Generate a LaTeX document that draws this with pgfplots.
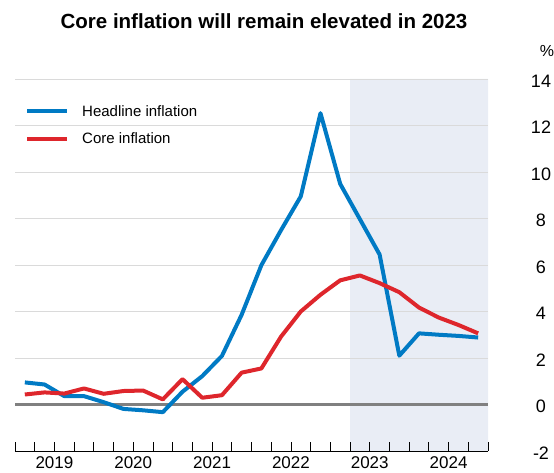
\documentclass[border=0pt]{standalone}
\usepackage{fontspec}
\setmainfont{Liberation Sans}
\usepackage{pgfplots}
\pgfplotsset{compat=1.18}
\definecolor{hblue}{RGB}{0,122,196}
\definecolor{cred}{RGB}{222,38,44}
\definecolor{shade}{RGB}{233,237,245}
\definecolor{gridc}{RGB}{218,218,218}
\definecolor{zeroc}{RGB}{128,128,128}

\pgfplotstableread{
x head core
0.5 0.95 0.43
1.5 0.86 0.52
2.5 0.36 0.47
3.5 0.36 0.69
4.5 0.10 0.46
5.5 -0.19 0.58
6.5 -0.25 0.60
7.5 -0.33 0.22
8.5 0.55 1.09
9.5 1.22 0.29
10.5 2.09 0.40
11.5 3.86 1.37
12.5 5.99 1.55
13.5 7.50 2.92
14.5 8.95 4.00
15.5 12.53 4.72
16.5 9.49 5.34
17.5 7.97 5.55
18.5 6.45 5.22
19.5 2.10 4.83
20.5 3.06 4.17
21.5 3.00 3.74
22.5 2.95 3.42
23.5 2.88 3.06
}\datatable

\begin{document}
\begin{tikzpicture}
\node[font=\bfseries\fontsize{20.5}{24}\selectfont] at (264pt,452pt) {Core inflation will remain elevated in 2023};
\node[font=\fontsize{16}{19}\selectfont] at (547pt,422pt) {\%};
\begin{axis}[
  at={(15pt,22pt)}, anchor=south west, scale only axis,
  width=473pt, height=372pt,
  xmin=0, xmax=24, ymin=-2, ymax=14,
  set layers,
  axis x line*=bottom, axis y line*=right,
  y axis line style={draw=none},
  x axis line style={black, line width=0.8pt},
  /pgf/number format/assume math mode=true,
  xticklabel style={font=\fontsize{17}{20}\selectfont, yshift=-2.5pt},
  yticklabel style={font=\fontsize{18}{21}\selectfont, anchor=center, xshift=53pt, yshift=-2pt},
  ytick={-2,0,...,14},
  ymajorgrids, grid style={gridc, line width=0.8pt},
  ytick style={draw=none},
  xtick={0,4,...,24}, xticklabels={},
  minor x tick num=3,
  xtick style={black, line width=0.8pt},
  tick align=inside,
  major tick length=9pt, minor tick length=9pt,
  extra x ticks={2,6,10,14,18,22},
  extra x tick labels={2019,2020,2021,2022,2023,2024},
  extra x tick style={major tick length=0pt, grid=none},
  legend style={at={(0,1)}, anchor=north west,
    xshift=10pt, yshift=-24pt, draw=none, fill=none, inner sep=0pt,
    font=\fontsize{15}{18}\selectfont, row sep=11pt,
    /tikz/every odd column/.append style={column sep=11pt},
    /tikz/every even column/.append style={column sep=10pt}},
  legend cell align=left,
  legend image code/.code={\draw[#1, line width=4pt] (0pt,0pt) -- (40pt,0pt);},
]
\addplot[on layer=axis background, fill=shade, draw=none, forget plot]
  coordinates {(17,-2) (24,-2) (24,14) (17,14) (17,-2)};
\addplot[zeroc, line width=3pt, forget plot] coordinates {(0,0) (24,0)};
\addplot[hblue, line width=4pt, line join=round] table[x=x, y=head] {\datatable};
\addlegendentry{Headline inflation}
\addplot[cred, line width=4pt, line join=round] table[x=x, y=core] {\datatable};
\addlegendentry{Core inflation}
\end{axis}
\pgfresetboundingbox
\useasboundingbox (0pt,0pt) rectangle (554pt,473pt);
\end{tikzpicture}
\end{document}
